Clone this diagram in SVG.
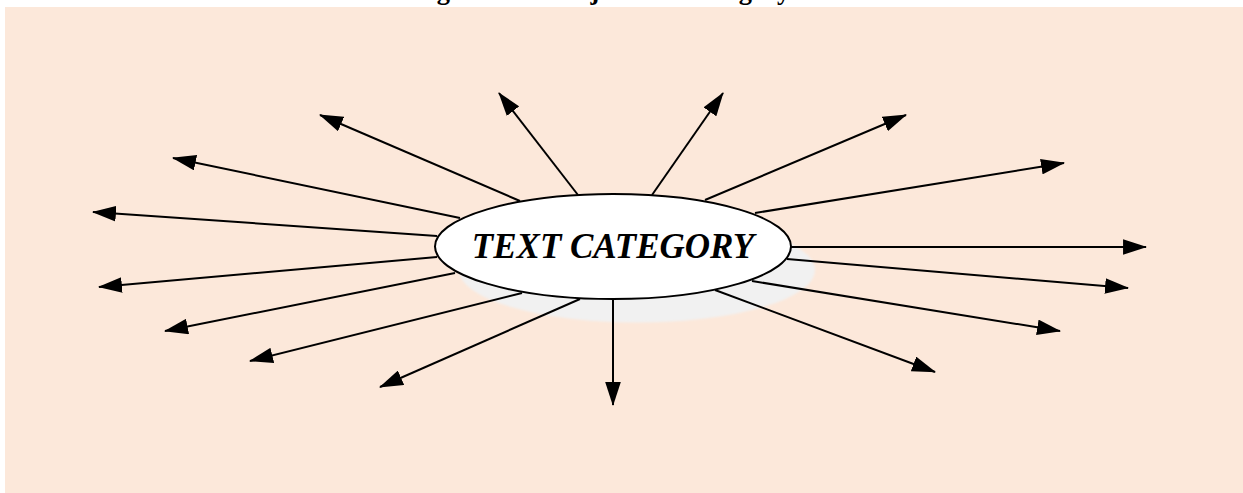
<svg xmlns="http://www.w3.org/2000/svg" width="1243" height="493" viewBox="0 0 1243 493">
  <defs>
    <marker id="arrow" markerUnits="userSpaceOnUse" markerWidth="24" markerHeight="16" viewBox="0 0 23 15" refX="22" refY="7.5" orient="auto">
      <path d="M0,0 L23,7.5 L0,15 Z" fill="#000"/>
    </marker>
    <filter id="soft" x="-10%" y="-20%" width="120%" height="140%">
      <feGaussianBlur stdDeviation="1.2"/>
    </filter>
  </defs>
  <style>
    .title { font-family: "Liberation Serif", "Times New Roman", serif; font-weight: bold; font-size: 26.5px; fill: #000; }
    .spoke { stroke: #000; stroke-width: 2; fill: none; marker-end: url(#arrow); }
    .hub { fill: #fff; stroke: #000; stroke-width: 2; }
    .hub-shadow { fill: #f1f1f1; }
    .hub-label { font-family: "Liberation Serif", "Times New Roman", serif; font-weight: bold; font-style: italic; font-size: 35px; fill: #000; }
  </style>

  <rect x="0" y="0" width="1243" height="493" fill="#fff"/>
  <rect x="5" y="7" width="1238" height="486" fill="#fce8da"/>

  <!-- heading, mostly above the top edge -->
  <text class="title" x="397" y="-1">Diagram of a Major Text Category</text>

  <!-- drop shadow of the hub sits beneath the spokes -->
  <g id="hub-shadow">
    <ellipse class="hub-shadow" cx="637" cy="270" rx="178" ry="52.5" filter="url(#soft)"/>
  </g>

  <!-- spokes radiating from the hub -->
  <g id="connectors">
    <line class="spoke" x1="578" y1="195" x2="499" y2="93"/>
    <line class="spoke" x1="652" y1="195" x2="723" y2="93"/>
    <line class="spoke" x1="520" y1="201" x2="320" y2="115"/>
    <line class="spoke" x1="705" y1="200" x2="906" y2="115"/>
    <line class="spoke" x1="460" y1="218" x2="173" y2="158"/>
    <line class="spoke" x1="755" y1="213" x2="1064" y2="163"/>
    <line class="spoke" x1="437" y1="236" x2="93" y2="212"/>
    <line class="spoke" x1="791" y1="247" x2="1146" y2="247"/>
    <line class="spoke" x1="437" y1="257" x2="99" y2="287"/>
    <line class="spoke" x1="787" y1="259" x2="1128" y2="288"/>
    <line class="spoke" x1="455" y1="273" x2="165" y2="331"/>
    <line class="spoke" x1="752" y1="281" x2="1060" y2="331"/>
    <line class="spoke" x1="522" y1="293" x2="250" y2="361"/>
    <line class="spoke" x1="715" y1="290" x2="935" y2="372"/>
    <line class="spoke" x1="580" y1="299" x2="380" y2="387"/>
    <line class="spoke" x1="613" y1="299" x2="613" y2="405"/>
  </g>

  <!-- central category node -->
  <g id="node-text-category">
    <ellipse class="hub" cx="613" cy="246.5" rx="178" ry="52.5"/>
    <text class="hub-label" x="613" y="258" text-anchor="middle">TEXT CATEGORY</text>
  </g>
</svg>
